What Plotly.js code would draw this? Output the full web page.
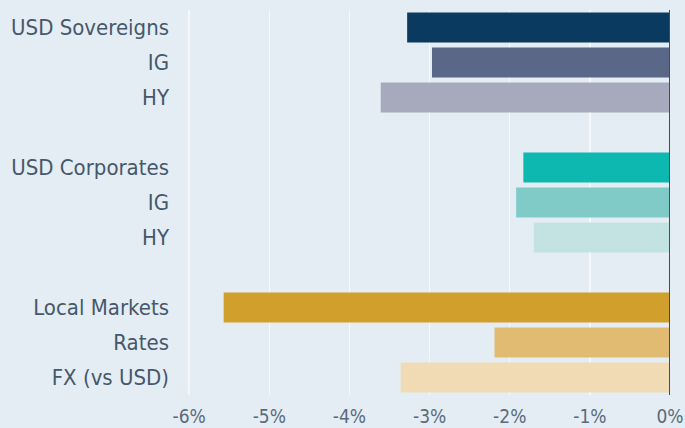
<!DOCTYPE html>
<html>
<head>
<meta charset="utf-8">
<script src="https://cdn.plot.ly/plotly-3.0.1.min.js"></script>
<style>html,body{margin:0;padding:0;background:#e4edf3;}</style>
</head>
<body>
<div id="chart" style="width:685px;height:428px;"></div>
<script>
// Categories top to bottom ("" entries are spacer rows)
const categoryIds = ["sov", "sovIG", "sovHY", "gap1", "corp", "corpIG", "corpHY", "gap2", "local", "rates", "fx"];
const categoryLabels = ["USD Sovereigns", "IG", "HY", "", "USD Corporates", "IG", "HY", "", "Local Markets", "Rates", "FX (vs USD)"];
const values = [-3.28, -2.97, -3.61, null, -1.83, -1.92, -1.70, null, -5.57, -2.19, -3.36];
const barColors = ["#0a3a5f", "#5a6786", "#a7aabd", "rgba(0,0,0,0)", "#0db8b0", "#80cbc8", "#c3e3e2", "rgba(0,0,0,0)", "#d19f2b", "#e2bb72", "#f1dbb5"];
const tickValues = [-6, -5, -4, -3, -2, -1, 0];
const tickLabels = ["-6%", "-5%", "-4%", "-3%", "-2%", "-1%", "0%"];

const trace = {
  type: "bar",
  orientation: "h",
  y: categoryIds,
  x: values,
  marker: {color: barColors},
  hoverinfo: "none"
};

const layout = {
  width: 685,
  height: 428,
  margin: {l: 188, r: 15, t: 10, b: 33},
  paper_bgcolor: "#e4edf3",
  plot_bgcolor: "#e4edf3",
  bargap: 0.143,
  showlegend: false,
  font: {family: "'DejaVu Sans Condensed', 'Liberation Sans Narrow', sans-serif", color: "#46586b"},
  xaxis: {
    range: [-6.015, 0],
    tickvals: tickValues,
    ticktext: tickLabels,
    showgrid: true,
    gridcolor: "#f5f8fa",
    gridwidth: 1.5,
    zeroline: false,
    showline: false,
    ticks: "",
    ticklabelstandoff: 8,
    tickfont: {size: 19, color: "#5b6b7b"},
    fixedrange: true
  },
  yaxis: {
    type: "category",
    categoryorder: "array",
    categoryarray: categoryIds,
    autorange: "reversed",
    tickvals: categoryIds,
    ticktext: categoryLabels,
    showgrid: false,
    zeroline: false,
    ticks: "",
    ticklabelstandoff: 18,
    tickfont: {size: 22, color: "#46586b"},
    fixedrange: true
  },
  shapes: [{
    type: "line", xref: "x", yref: "paper",
    x0: 0, x1: 0, y0: 0, y1: 1,
    line: {color: "#3e4f60", width: 2}
  }]
};

Plotly.newPlot("chart", [trace], layout, {displayModeBar: false, staticPlot: true});
</script>
</body>
</html>
